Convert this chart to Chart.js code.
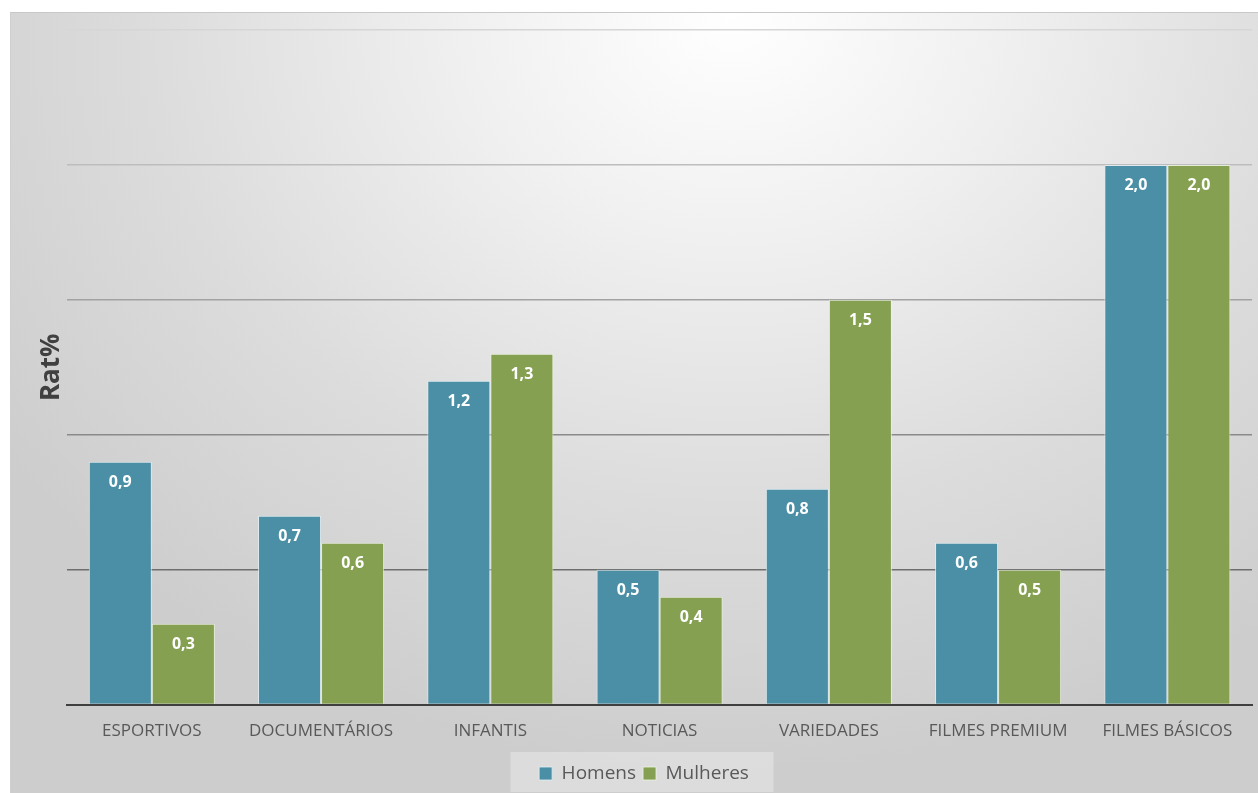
<!DOCTYPE html>
<html>
<head>
<meta charset="utf-8">
<script src="https://cdn.jsdelivr.net/npm/chart.js@4/dist/chart.umd.min.js"></script>
<style>
  html, body { margin: 0; padding: 0; background: #ffffff; }
  #card {
    position: absolute; left: 10px; top: 12px; width: 1248px; height: 781px;
    background: radial-gradient(ellipse 900px 760px at 720px 0px, #ffffff 0%, #f0f0f0 30%, #dcdcdc 65%, #cdcdcd 100%);
    border-top: 1px solid #c8c8c8; border-left: 1px solid #cfcfcf;
  }
  #wrap { position: absolute; left: 0; top: 0; width: 1258px; height: 793px; }
</style>
</head>
<body>
<div id="card"></div>
<div id="wrap"><canvas id="c" width="1258" height="793"></canvas></div>
<script>
// Categorias de programação e audiência (Rat%) por sexo
const categorias = ['ESPORTIVOS', 'DOCUMENTÁRIOS', 'INFANTIS', 'NOTICIAS', 'VARIEDADES', 'FILMES PREMIUM', 'FILMES BÁSICOS'];
const homens   = [0.9, 0.7, 1.2, 0.5, 0.8, 0.6, 2.0];
const mulheres = [0.3, 0.6, 1.3, 0.4, 1.5, 0.5, 2.0];
const seriesNomes = ['Homens', 'Mulheres'];

const FONT = '"Open Sans", "DejaVu Sans", sans-serif';

// Rótulos de valor dentro do topo de cada barra
const rotulosValor = {
  id: 'rotulosValor',
  afterDatasetsDraw(chart) {
    const ctx = chart.ctx;
    ctx.save();
    ctx.fillStyle = '#ffffff';
    ctx.font = 'bold 16px ' + FONT;
    ctx.textAlign = 'center';
    ctx.textBaseline = 'middle';
    chart.data.datasets.forEach((ds, i) => {
      chart.getDatasetMeta(i).data.forEach((bar, j) => {
        const txt = ds.data[j].toFixed(1).replace('.', ',');
        ctx.fillText(txt, bar.x, bar.y + 21);
      });
    });
    ctx.restore();
  }
};

// Fundo claro atrás da legenda
const fundoLegenda = {
  id: 'fundoLegenda',
  beforeDraw(chart) {
    const lg = chart.legend;
    if (!lg) return;
    const ctx = chart.ctx;
    const w = 263, h = 40;
    const cx = lg.left + lg.width / 2;
    ctx.save();
    ctx.fillStyle = 'rgba(255,255,255,0.30)';
    ctx.fillRect(cx - w / 2 - 2, 752, w, h);
    ctx.restore();
  }
};

const gridCores = { '0': '#3f3f3f', '0.5': '#6e6e6e', '1': '#8a8a8a', '1.5': '#a2a2a2', '2': '#bdbdbd', '2.5': '#d6d6d6' };

new Chart(document.getElementById('c'), {
  type: 'bar',
  data: {
    labels: categorias,
    datasets: [
      { label: seriesNomes[0], data: homens, backgroundColor: '#4a8fa6', borderColor: 'rgba(225,240,245,0.8)', borderWidth: 1 },
      { label: seriesNomes[1], data: mulheres, backgroundColor: '#84a050', borderColor: 'rgba(235,245,220,0.8)', borderWidth: 1 }
    ]
  },
  options: {
    responsive: false,
    animation: false,
    devicePixelRatio: 1,
    layout: { padding: { left: 36, top: 30, right: 6, bottom: 0 } },
    datasets: { bar: { categoryPercentage: 0.745, barPercentage: 1.0 } },
    plugins: {
      legend: {
        position: 'bottom',
        labels: {
          font: { family: FONT, size: 19 },
          color: '#595959',
          boxWidth: 13, boxHeight: 13,
          padding: 7
        }
      },
      tooltip: { enabled: false }
    },
    scales: {
      x: {
        grid: { display: false, drawTicks: false },
        border: { display: true, color: '#3f3f3f', width: 2 },
        ticks: { font: { family: FONT, size: 17 }, color: '#595959', padding: 16, maxRotation: 0 }
      },
      y: {
        min: 0, max: 2.5,
        ticks: { stepSize: 0.5, display: false },
        grid: {
          drawTicks: false,
          color: (c) => gridCores[String(c.tick && c.tick.value)] || '#999',
          lineWidth: 1.5
        },
        border: { display: false },
        title: { display: true, text: 'Rat%', font: { family: FONT, size: 26, weight: 'bold' }, color: '#404040', padding: { top: 0, bottom: 0 } }
      }
    }
  },
  plugins: [fundoLegenda, rotulosValor]
});
</script>
</body>
</html>
